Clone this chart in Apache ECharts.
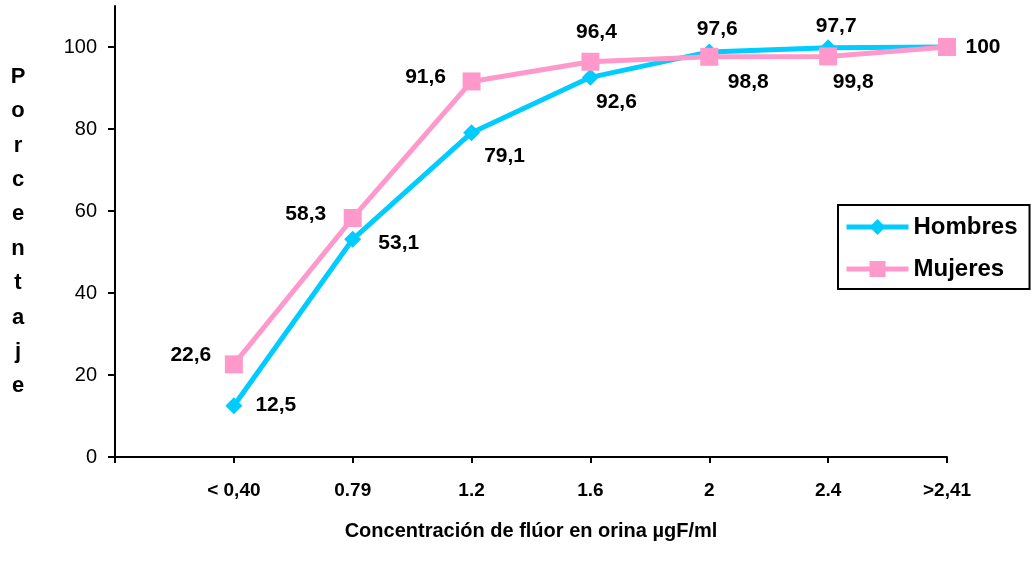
<!DOCTYPE html>
<html>
<head>
<meta charset="utf-8">
<script src="https://cdn.jsdelivr.net/npm/echarts@6/dist/echarts.min.js"></script>
<style>
html,body{margin:0;padding:0;background:#fff;}
#c{width:1031px;height:563px;}
</style>
</head>
<body>
<div id="c"></div>
<script>
// ---- data ----
var categories = ['< 0,40', '0.79', '1.2', '1.6', '2', '2.4', '>2,41'];
var hombres = [12.5, 53.1, 79.1, 92.6, 98.8, 99.8, 100];
var mujeres = [22.6, 58.3, 91.6, 96.4, 97.6, 97.7, 100];
var yTicks = [0, 20, 40, 60, 80, 100];
var seriesNames = ['Hombres', 'Mujeres'];
var xTitle = 'Concentración de flúor en orina µgF/ml';
var yTitle = 'Porcentaje';

// ---- label placement (offsets from point centre) ----
var hOffsets = [[42,-1],[46,4],[33,24],[26,25],[39,30],[25,34],null];
var mOffsets = [[-43,-9],[-47,-4],[-46,-4],[6,-30],[8,-28],[8,-30],[36,0]];

var FONT = '"Liberation Sans", Arial, sans-serif';

function build(values, offsets) {
  return values.map(function (v, i) {
    var o = offsets[i];
    return {
      value: [i + 1, v],
      label: o ? { show: true, position: 'inside', offset: o } : { show: false }
    };
  });
}
function fmt(v) { return String(v).replace('.', ','); }

var chart = echarts.init(document.getElementById('c'));
chart.setOption({
  animation: false,
  backgroundColor: '#fff',
  textStyle: { fontFamily: FONT },
  grid: { left: 115, right: 84, top: 6, bottom: 106, containLabel: false, outerBoundsMode: 'none' },
  legend: {
    orient: 'vertical',
    left: 838, top: 205,
    padding: [10, 12, 8, 6],
    itemGap: 18,
    itemWidth: 62, itemHeight: 20,
    borderColor: '#000', borderWidth: 2,
    lineStyle: { width: 5 },
    textStyle: { fontFamily: FONT, fontWeight: 'bold', fontSize: 24, color: '#000' },
    data: seriesNames
  },
  xAxis: {
    type: 'value', min: 0, max: categories.length, interval: 1,
    splitLine: { show: false },
    axisLine: { lineStyle: { color: '#000', width: 2 } },
    axisTick: { length: 6, lineStyle: { color: '#000', width: 2 } },
    axisLabel: {
      margin: 24, color: '#000', fontWeight: 'bold', fontSize: 19, fontFamily: FONT,
      formatter: function (v) { return v >= 1 && v <= categories.length ? categories[v - 1] : ''; }
    },
    name: xTitle, nameLocation: 'middle', nameGap: 64,
    nameTextStyle: { color: '#000', fontWeight: 'bold', fontSize: 20, fontFamily: FONT }
  },
  yAxis: {
    type: 'value', min: 0, max: 110,
    splitLine: { show: false },
    axisLine: { show: true, lineStyle: { color: '#000', width: 2 } },
    axisTick: { show: true, length: 7, customValues: yTicks, lineStyle: { color: '#000', width: 2 } },
    axisLabel: { customValues: yTicks, margin: 18, color: '#000', fontSize: 20, fontFamily: FONT },
    name: yTitle.split('').join('\n'), nameLocation: 'middle', nameRotate: 0, nameGap: 97,
    nameTextStyle: { color: '#000', fontWeight: 'bold', fontSize: 22, lineHeight: 34.4, fontFamily: FONT, align: 'center' }
  },
  series: [
    {
      name: seriesNames[0], type: 'line',
      data: build(hombres, hOffsets),
      symbol: 'diamond', symbolSize: 17,
      lineStyle: { color: '#00CCFF', width: 5 },
      itemStyle: { color: '#00CCFF' },
      label: { color: '#000', fontWeight: 'bold', fontSize: 21, fontFamily: FONT,
        formatter: function (p) { return fmt(p.value[1]); } }
    },
    {
      name: seriesNames[1], type: 'line',
      data: build(mujeres, mOffsets),
      symbol: 'rect', symbolSize: 18,
      lineStyle: { color: '#FF99CC', width: 5 },
      itemStyle: { color: '#FF99CC' },
      label: { color: '#000', fontWeight: 'bold', fontSize: 21, fontFamily: FONT,
        formatter: function (p) { return fmt(p.value[1]); } }
    }
  ]
});
</script>
</body>
</html>
